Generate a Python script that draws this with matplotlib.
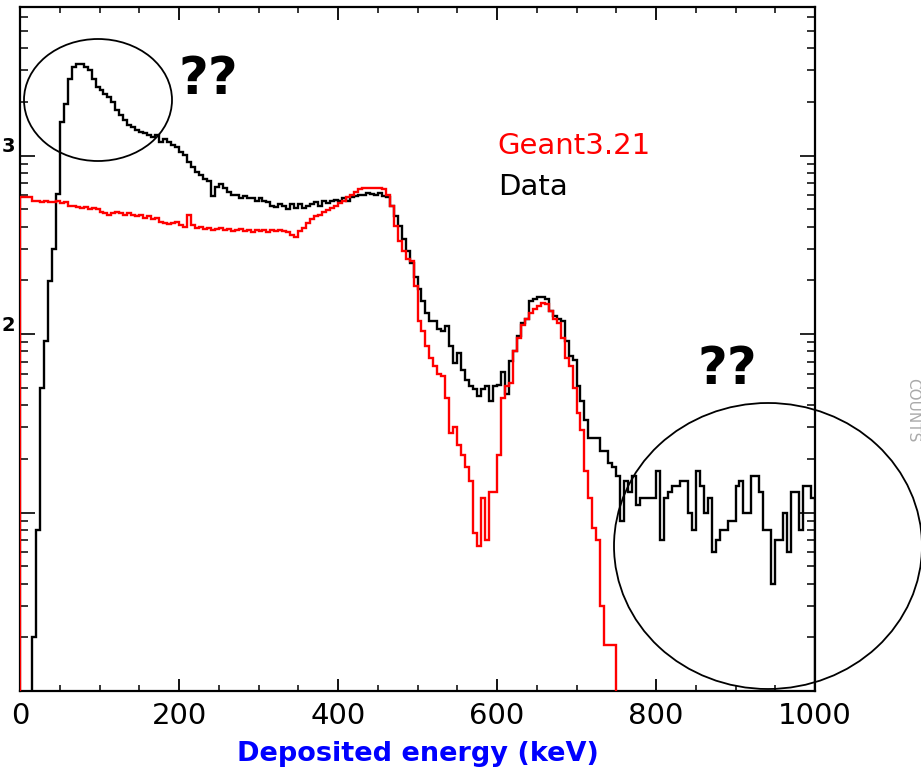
import numpy as np
import matplotlib
matplotlib.use('Agg')
import matplotlib.pyplot as plt
from matplotlib.patches import Ellipse
from matplotlib.ticker import MultipleLocator, LogLocator, NullFormatter

# 5 keV bins from 0 to 1000 keV
edges = np.arange(0, 1001, 5)

# measured spectrum, counts per bin
data_counts = [
    0, 0, 0, 2, 8, 50, 92, 198, 300, 613,
    1549, 1953, 2692, 3143, 3266, 3266, 3143, 3020, 2692, 2427,
    2337, 2218, 2136, 2004, 1808, 1695, 1590, 1490, 1452, 1400,
    1362, 1340, 1300, 1277, 1300, 1197, 1240, 1197, 1150, 1122,
    1052, 1010, 925, 868, 814, 783, 744, 716, 590, 671,
    690, 655, 629, 605, 605, 575, 590, 575, 575, 560,
    575, 553, 547, 525, 512, 533, 519, 499, 533, 506,
    533, 506, 525, 533, 547, 525, 553, 540, 553, 567,
    553, 575, 560, 583, 590, 605, 605, 621, 612, 605,
    621, 590, 583, 519, 456, 401, 343, 291, 250, 210,
    178, 153, 131, 118, 118, 107, 104, 111, 86, 69,
    78, 63, 55, 51, 49, 45, 49, 51, 42, 51,
    52, 61, 46, 71, 80, 98, 115, 121, 153, 157,
    161, 161, 157, 134, 126, 121, 118, 91, 75, 72,
    51, 42, 33, 26, 26, 26, 22, 22, 19, 18,
    16, 9, 15, 13, 16, 11, 12, 12, 12, 12,
    17, 7, 12, 13, 14, 14, 15, 15, 10, 8,
    17, 14, 10, 12, 6, 7, 8, 8, 9, 9,
    14, 15, 10, 10, 16, 16, 13, 8, 8, 4,
    7, 7, 10, 6, 13, 13, 8, 14, 14, 12,
]

# Geant3.21 simulation, counts per bin
geant_counts = [
    583, 583, 583, 553, 560, 547, 553, 547, 547, 553,
    540, 547, 525, 519, 512, 506, 512, 499, 506, 499,
    480, 474, 467, 474, 480, 474, 467, 474, 467, 456,
    462, 448, 456, 440, 448, 424, 418, 412, 418, 424,
    406, 400, 467, 406, 395, 400, 390, 395, 385, 390,
    395, 385, 390, 380, 385, 390, 380, 385, 375, 385,
    380, 385, 375, 385, 380, 385, 380, 375, 360, 352,
    376, 395, 418, 440, 456, 467, 480, 493, 506, 525,
    540, 560, 583, 605, 629, 648, 655, 655, 655, 655,
    655, 648, 605, 519, 401, 331, 291, 262, 256, 186,
    118, 104, 86, 73, 66, 60, 58, 44, 28, 30,
    24, 21, 18, 15, 7.7, 6.5, 12, 7, 13, 13,
    21, 44, 51, 53, 80, 95, 113, 121, 131, 139,
    143, 149, 147, 134, 121, 115, 95, 73, 66, 50,
    36, 29, 17, 12, 8.2, 7, 3, 1.8, 1.8, 1.8,
    0, 0, 0, 0, 0, 0, 0, 0, 0, 0,
    0, 0, 0, 0, 0, 0, 0, 0, 0, 0,
    0, 0, 0, 0, 0, 0, 0, 0, 0, 0,
    0, 0, 0, 0, 0, 0, 0, 0, 0, 0,
    0, 0, 0, 0, 0, 0, 0, 0, 0, 0,
]

x_ticks = [0, 200, 400, 600, 800, 1000]
decade_labels = {1000: '3', 100: '2'}

W, H = 921, 771
fig = plt.figure(figsize=(W / 100, H / 100), dpi=100)
ax = fig.add_axes([20 / W, 1 - 691 / H, 795 / W, 684 / H])
ax.set_yscale('log')

# empty bins go below the axis floor so the steps drop out of view
data = np.array(data_counts, dtype=float)
geant = np.array(geant_counts, dtype=float)
ax.stairs(np.where(data > 0, data, 0.1), edges, color='black', lw=1.7,
          baseline=0.1, zorder=2)
ax.stairs(np.where(geant > 0, geant, 0.1), edges, color='red', lw=1.7,
          baseline=0.1, zorder=3)

ax.set_xlim(0, 1000)
ax.set_ylim(1, 6800)

ax.xaxis.set_major_locator(MultipleLocator(200))
ax.xaxis.set_minor_locator(MultipleLocator(50))
ax.set_xticks(x_ticks)
ax.set_xticklabels([str(t) for t in x_ticks])
ax.yaxis.set_major_locator(LogLocator(base=10, numticks=10))
ax.yaxis.set_minor_locator(LogLocator(base=10, subs=np.arange(2, 10), numticks=20))
ax.yaxis.set_minor_formatter(NullFormatter())

ax.tick_params(which='both', direction='in', top=True, right=True)
ax.tick_params(axis='x', which='major', length=9, width=1.3, labelsize=21, pad=8)
ax.tick_params(axis='x', which='minor', length=4.5, width=1.1)
ax.tick_params(axis='y', which='major', length=11, width=1.2, labelleft=False)
ax.tick_params(axis='y', which='minor', length=6, width=1.1)
for sp in ax.spines.values():
    sp.set_linewidth(1.6)

# decade exponents on the left edge
for val, lab in decade_labels.items():
    ax.annotate(lab, xy=(0, val), xycoords=('axes fraction', 'data'),
                xytext=(-5, 9), textcoords='offset pixels',
                ha='right', va='center', fontsize=14, fontweight='bold')

ax.set_xlabel('Deposited energy (keV)', color='blue', fontsize=19.5,
              fontweight='bold', labelpad=8)

ax.text(0.601, 0.797, 'Geant3.21', color='red', fontsize=21,
        transform=ax.transAxes, ha='left', va='center')
ax.text(0.601, 0.737, 'Data', color='black', fontsize=21,
        transform=ax.transAxes, ha='left', va='center')

# question marks and circles around the odd regions
fig.text(178 / W, 1 - 80 / H, '??', fontsize=37, fontweight='bold',
         ha='left', va='center')
fig.text(697 / W, 1 - 370 / H, '??', fontsize=37, fontweight='bold',
         ha='left', va='center')
fig.add_artist(Ellipse((98 / W, 1 - 100 / H), 148 / W, 122 / H,
                       transform=fig.transFigure, fill=False,
                       ec='black', lw=1.3))
fig.add_artist(Ellipse((768 / W, 1 - 546 / H), 308 / W, 286 / H,
                       transform=fig.transFigure, fill=False,
                       ec='black', lw=1.3))

fig.text(920 / W, 1 - 410 / H, 'COUNTS', rotation=-90, color='#aaaaaa',
         fontsize=11, ha='right', va='center')

fig.savefig('out.png', dpi=100)
